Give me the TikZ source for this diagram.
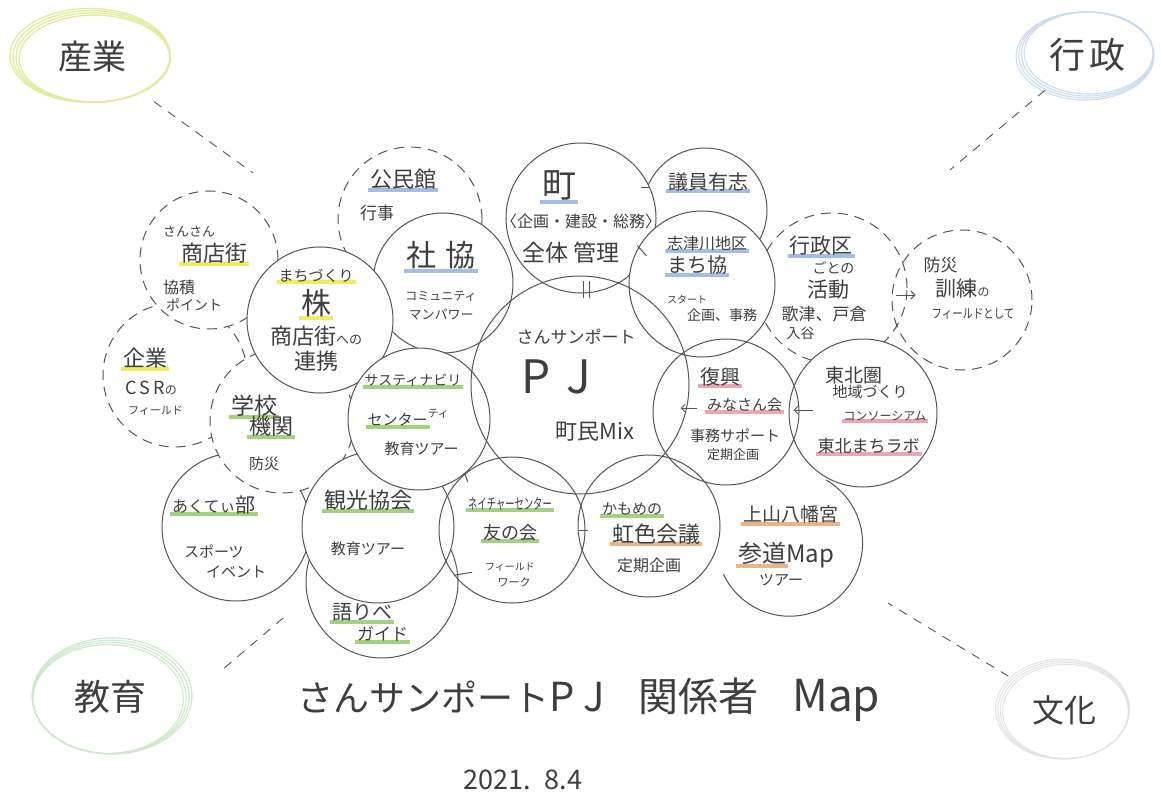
\documentclass[tikz,border=0pt]{standalone}
\usepackage{fontspec}
\setmainfont{Noto Sans CJK JP}
\usetikzlibrary{shapes.geometric,calc,arrows.meta}

\definecolor{ink}{HTML}{3E3E3E}
\definecolor{pencil}{HTML}{555555}
\definecolor{hlyellow}{HTML}{F0EC62}
\definecolor{hlblue}{HTML}{A3BDE8}
\definecolor{hlgreen}{HTML}{A2D27E}
\definecolor{hlpink}{HTML}{EAA6B2}
\definecolor{hlorange}{HTML}{EEB289}
\definecolor{sangyocol}{HTML}{E3EC9C}
\definecolor{gyoseicol}{HTML}{CADCF0}
\definecolor{kyoikucol}{HTML}{CDE8CB}
\definecolor{bunkacol}{HTML}{E4E4E4}

\newcommand\sz[1]{\fontsize{#1}{\fpeval{round(1.2*#1,1)}}\selectfont}
\newsavebox\hibox
\newcommand\hili[2]{\sbox\hibox{#2}\makebox[0pt][l]{\hspace*{-2pt}\textcolor{#1}{\rule[-0.2em]{\dimexpr\wd\hibox+4pt\relax}{4pt}}}\usebox\hibox}

\tikzset{
    ring/.style={circle, draw=pencil, line width=1pt, fill=white, minimum size=#1},
    maybe/.style={ring=#1, dash pattern=on 10pt off 7pt},
    bare/.style={ring=#1, fill=none},
    field/.style 2 args={ellipse, minimum width=#1, minimum height=#2}
}

\begin{document}
\begin{tikzpicture}[x=1pt, y=-1pt,
        every node/.style={text=ink, inner sep=0pt},
        note/.style={align=center},
        noteL/.style={align=left},
        link/.style={draw=pencil, line width=0.9pt, dash pattern=on 9pt off 8pt},
        tickmark/.style={draw=pencil, line width=1pt},
        flow/.style={draw=pencil, line width=1pt, -{Straight Barb[length=4pt, width=8pt]}}]
    \fill[white] (0,0) rectangle (1161,794);
    \useasboundingbox (0,0) rectangle (1161,794);

    % corners
    \node[field={160}{94}] (sangyo) at (92,57) {\sz{34}産業};
    \node[field={138}{88}] (gyosei) at (1087,55) {\sz{36}行\hspace{4pt}政};
    \node[field={160}{116}] (kyoiku) at (110,697) {\sz{36}教育};
    \node[field={134}{100}] (bunka) at (1064,710) {\sz{32}文化};
    \foreach \k in {0,1,2,3} {
        \draw[sangyocol, line width=1.3pt] ([shift={({\k*1.5-2},{\k-1.5})}]sangyo.center) ellipse[x radius={80-\k*1.5}, y radius={47-\k*1.2}];
        \draw[gyoseicol, line width=1.1pt] ([shift={({\k*1.2-2},{1-\k})}]gyosei.center) ellipse[x radius={69-\k*1.5}, y radius={44-\k}];
        \draw[kyoikucol, line width=1.1pt] ([shift={({2-\k*1.3},{\k-1})}]kyoiku.center) ellipse[x radius={80-\k*1.6}, y radius={58-\k*1.2}];
        \draw[bunkacol, line width=1pt] ([shift={({\k-1.5},{\k*0.8-1})}]bunka.center) ellipse[x radius={67-\k*1.4}, y radius={50-\k}];
    }
    \coordinate (sangyo-end) at (253,173);
    \coordinate (gyosei-end) at (950,170);
    \coordinate (kyoiku-end) at (289,613);
    \coordinate (bunka-end) at (888,603);
    \draw[link, shorten <=14pt] (sangyo) -- (sangyo-end);
    \draw[link] (gyosei) -- (gyosei-end);
    \draw[link, shorten <=45pt] (kyoiku.east) -- (kyoiku-end);
    \draw[link, shorten <=4pt] (bunka) -- (bunka-end);

    % circles
    \node[maybe=144] (kigyo) at (175,375) {};
    \node[maybe=138] (sansan) at (209,260) {};
    \node[ring=148] (akutei) at (236,527) {};
    \node[maybe=144] (gakko) at (282,421) {};
    \node[maybe=144] (kominkan) at (410,219) {};
    \node[ring=140] (shakyo) at (443,283) {};
    \node[ring=146] (machizukuri) at (320,320) {};
    \node[ring=152] (kataribe) at (382,582) {};
    \node[ring=152] (kanko) at (378,527) {};
    \node[ring=142] (sustain) at (419,419) {};
    \node[ring=124] (giin) at (705,210) {};
    \node[ring=150] (machi) at (581,218) {};
    \node[maybe=150] (gyoseiku) at (832,288) {};
    \node[ring=146] (shizugawa) at (702,284) {};
    \node[maybe=140, fill=none] (bosai) at (962,300) {};
    \node[ring=148] (tohoku) at (863,413) {};
    \node[bare=146, draw=none] (kamiyama) at (790,543) {};
    \draw[pencil, line width=1pt] (kamiyama.-155) arc[start angle=155, end angle=-60, radius=73];
    \node[bare=146] (nature) at (512,530) {};
    \node[bare=142] (kamome) at (649,526) {};
    \node[bare=146] (fukko) at (726,412) {};
    \node[bare=218] (pj) at (580,385) {};

    % marks and arrows
    \draw[tickmark] (machi.24) -- ++(-9,0);
    \draw[tickmark] (machi.-30) -- ++(-9,-10);
    \draw[tickmark] ([xshift=2pt,yshift=-4pt]machi.south) -- ++(0,-17)
                    ([xshift=8pt,yshift=-4pt]machi.south) -- ++(0,-17);
    \draw[tickmark] ([xshift=2pt]nature.east) -- ++(-9,0);
    \draw[tickmark] (nature.130) -- ++(3,8);
    \draw[tickmark] (nature.-142) -- ++(18,-3);
    \draw[flow] ($(gyoseiku.east)+(-12,7)$) -- ($(bosai.west)+(24,-5)$);
    \draw[flow] ($(fukko.west)+(44,-4)$) -- ($(pj.east)+(-9,23)$);
    \draw[flow] ($(tohoku.west)+(24,-3)$) -- ($(fukko.east)+(-6,-2)$);

    % texts
    \node[noteL] (sansan-t) at (205,269) {\sz{13}さんさん\\[5pt] \hspace*{18pt}\sz{22}\hili{hlyellow}{商店街}\\[13pt] \sz{16}協積\\[3pt] \hspace*{3pt}\sz{14}ポイント};
    \node[note] (machizukuri-t) at (316,320) {\sz{15}\hili{hlyellow}{まちづくり}\\[4pt] \sz{30}\hili{hlyellow}{株}\\[5pt] \sz{22}商店街{\sz{13}への}\\[3pt] \sz{22}連携};
    \node[note] (shakyo-t) at (441,281) {\sz{30}\hili{hlblue}{社\hspace{10pt}協}\\[18pt] \sz{12}コミュニティ\\[7pt] \sz{13}マンパワー};
    \node[noteL] (kominkan-t) at (398,195) {\hspace*{10pt}\sz{22}\hili{hlblue}{公民館}\\[13pt] \sz{17}行事};
    \node[noteL] (kigyo-t) at (153,382) {\sz{22}\hili{hlyellow}{企業}\\[9pt] \hspace*{2pt}\sz{18}C\,S\,R{\sz{12}の}\\[8pt] \hspace*{5pt}\sz{11}フィールド};
    \node[noteL] (gakko-t) at (262,433) {\sz{23}\hili{hlgreen}{学校}\\[-4pt] \hspace*{18pt}\sz{22}\hili{hlgreen}{機関}\\[17pt] \hspace*{18pt}\sz{15}防災};
    \node[noteL] (sustain-t) at (413,415) {\sz{14}\hili{hlgreen}{サスティナビリ}\\[20pt] \hspace*{3pt}\sz{15}\hili{hlgreen}{センター}\raisebox{8pt}{\sz{11}ティ}\\[12pt] \hspace*{20pt}\sz{15}教育ツアー};
    \node[noteL] (akutei-t) at (219,537) {\sz{16}\hili{hlgreen}{あくてぃ\sz{20}部}\\[28pt] \hspace*{12pt}\sz{15}スポーツ\\[7pt] \hspace*{34pt}\sz{15}イベント};
    \node[note] (kanko-t) at (368,523) {\sz{22}\hili{hlgreen}{観光協会}\\[28pt] \sz{15}教育ツアー};
    \node[noteL] (kataribe-t) at (370,624) {\sz{20}\hili{hlgreen}{語りべ}\\[2pt] \hspace*{25pt}\sz{17}\hili{hlgreen}{ガイド}};
    \node[note] (nature-t) at (510,542) {\sz{15}\hili{hlgreen}{\scalebox{0.62}[1]{ネイチャーセンター}}\\[11pt] \sz{18}\hili{hlgreen}{友の会}\\[19pt] \sz{10}フィールド\\[4pt] \hspace*{8pt}\sz{11}ワーク};
    \node[noteL] (kamome-t) at (651,538) {\sz{15}\hili{hlgreen}{かもめの}\\[5pt] \hspace*{10pt}\sz{22}\hili{hlorange}{虹色会議}\\[11pt] \hspace*{15pt}\sz{16}定期企画};
    \node[noteL] (kamiyama-t) at (788,546) {\hspace*{5pt}\sz{19}\hili{hlorange}{上山八幡宮}\\[16pt] \sz{24}\hili{hlorange}{参道}Map\\[5pt] \hspace*{21pt}\sz{15}ツアー};
    \node[note] (machi-t) at (581,217) {\hspace*{-44pt}\sz{34}\hili{hlblue}{町}\\[9pt] \sz{16}〈企画・建設・総務〉\\[12pt] \hspace*{-20pt}\sz{23}全体\hspace{6pt}管理};
    \node[note] (giin-t) at (708,183) {\sz{20}\hili{hlblue}{議員有志}};
    \node[noteL] (shizugawa-t) at (712,279) {\sz{16}\hili{hlblue}{志津川地区}\\[2pt] \sz{20}\hili{hlblue}{まち協}\\[17pt] \sz{10}スタート\\[4pt] \hspace*{20pt}\sz{14}企画、事務};
    \node[noteL] (gyoseiku-t) at (824,288) {\hspace*{8pt}\sz{21}\hili{hlblue}{行政区}\\[3pt] \hspace*{31pt}\sz{14}ごとの\\[5pt] \hspace*{26pt}\sz{21}活動\\[6pt] \sz{17}歌津、戸倉\\[4pt] \hspace*{5pt}\sz{14}入谷};
    \node[noteL] (bosai-t) at (969,288) {\sz{17}防災\\[5pt] \hspace*{12pt}\sz{21}訓練{\sz{12}の}\\[10pt] \hspace*{8pt}\sz{13}\scalebox{0.8}[1]{フィールドとして}};
    \node[note] (pj-t) at (576,385) {\sz{17}さんサンポート\\[14pt] \hspace*{-40pt}\sz{46}P\hspace{16pt}J\\[27pt] \hspace*{38pt}\sz{22}町民Mix};
    \node[noteL] (fukko-t) at (736,414) {\hspace*{10pt}\sz{20}\hili{hlpink}{復興}\\[9pt] \hspace*{17pt}\sz{15}\hili{hlpink}{みなさん会}\\[14pt] \sz{15}事務サポート\\[5pt] \hspace*{17pt}\sz{13}定期企画};
    \node[noteL] (tohoku-t) at (872,411) {\hspace*{8pt}\sz{19}東北圏\\[0pt] \hspace*{15pt}\sz{15}地域づくり\\[11pt] \hspace*{26pt}\sz{12}\hili{hlpink}{コンソーシアム}\\[14pt] \sz{17}\hili{hlpink}{東北まちラボ}};

    \node (title) at (589,700) {\sz{36}さんサンポート\sz{40}P\hspace{8pt}J\hspace{34pt}関係者\hspace{34pt}\sz{44}Map};
    \node (date) at (523,780) {\sz{27}2021.\hspace{14pt}8.4};
\end{tikzpicture}
\end{document}
